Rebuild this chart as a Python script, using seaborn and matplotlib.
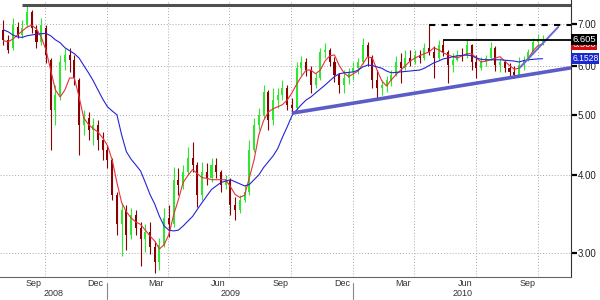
import matplotlib

matplotlib.use("Agg")
import matplotlib.dates as mdates
import matplotlib.pyplot as plt
import matplotlib.transforms as mtransforms
import pandas as pd
import seaborn as sns
from matplotlib.ticker import FixedLocator, FuncFormatter, NullFormatter, NullLocator

# weekly bars, week ending Friday
week_end = pd.date_range("2008-08-01", periods=115, freq="W-FRI")

opens = [
    6.85, 6.60, 6.41, 6.92, 6.72, 6.97, 7.31, 6.85, 6.55, 6.90,
    6.13, 5.09, 5.38, 6.08, 6.24, 6.13, 5.69, 4.82, 4.94, 4.73,
    4.82, 4.56, 4.39, 4.23, 3.72, 3.33, 3.51, 3.20, 3.45, 3.29,
    3.15, 3.24, 3.06, 2.90, 3.09, 3.41, 3.33, 3.93, 3.86, 4.05,
    4.26, 4.15, 3.72, 4.05, 3.96, 4.15, 4.05, 3.86, 3.93, 3.58,
    3.51, 3.65, 3.76, 4.39, 4.82, 5.00, 5.44, 4.91, 5.28, 5.38,
    5.52, 5.19, 5.13, 5.94, 6.08, 5.90, 5.58, 5.73, 6.31, 6.36,
    6.08, 5.80, 5.58, 5.73, 5.86, 5.94, 6.08, 6.48, 6.20, 5.69,
    5.52, 5.58, 5.69, 5.80, 6.08, 5.94, 6.17, 6.08, 6.24, 6.17,
    6.41, 6.31, 6.17, 6.48, 6.31, 6.01, 6.13, 6.24, 6.22, 6.48,
    6.08, 5.94, 6.08, 6.17, 6.41, 6.01, 6.08, 5.94, 5.86, 5.80,
    6.01, 6.13, 6.31, 6.55, 6.55,
]
highs = [
    7.10, 6.72, 7.15, 7.05, 7.10, 7.51, 7.37, 6.97, 7.15, 6.97,
    6.17, 5.58, 6.24, 6.41, 6.41, 6.24, 5.73, 5.09, 5.05, 4.94,
    4.91, 4.69, 4.47, 4.26, 3.76, 3.61, 3.58, 3.54, 3.51, 3.36,
    3.33, 3.36, 3.13, 3.17, 3.54, 3.58, 4.12, 4.11, 4.15, 4.43,
    4.52, 4.20, 4.20, 4.18, 4.26, 4.26, 4.08, 4.00, 3.96, 3.68,
    3.72, 3.86, 4.56, 4.94, 5.13, 5.58, 5.48, 5.52, 5.52, 5.69,
    5.58, 5.32, 6.08, 6.22, 6.17, 5.99, 5.84, 6.41, 6.53, 6.41,
    6.20, 5.84, 5.90, 5.94, 6.08, 6.17, 6.65, 6.55, 6.24, 5.90,
    5.69, 5.78, 5.90, 6.22, 6.29, 6.36, 6.36, 6.36, 6.36, 6.53,
    6.98, 6.46, 6.60, 6.60, 6.36, 6.29, 6.36, 6.41, 6.60, 6.50,
    6.24, 6.20, 6.24, 6.55, 6.46, 6.17, 6.13, 6.06, 5.99, 6.20,
    6.22, 6.38, 6.65, 6.75, 6.72,
]
lows = [
    6.48, 6.29, 6.36, 6.65, 6.65, 6.92, 6.77, 6.41, 6.48, 6.06,
    4.39, 4.82, 5.28, 5.90, 5.86, 5.58, 4.31, 4.64, 4.56, 4.47,
    4.39, 4.23, 4.11, 3.65, 3.20, 2.96, 3.03, 3.15, 3.20, 2.85,
    3.01, 2.98, 2.78, 2.81, 3.06, 3.18, 3.30, 3.72, 3.79, 4.00,
    4.05, 3.55, 3.65, 3.86, 3.90, 3.96, 3.75, 3.79, 3.45, 3.39,
    3.47, 3.62, 3.72, 4.36, 4.73, 4.94, 4.73, 4.82, 5.13, 5.28,
    5.09, 5.02, 5.05, 5.80, 5.78, 5.42, 5.52, 5.69, 6.17, 6.00,
    5.65, 5.42, 5.42, 5.60, 5.69, 5.82, 6.04, 6.00, 5.52, 5.30,
    5.38, 5.44, 5.56, 5.78, 5.63, 5.90, 6.00, 6.04, 6.06, 6.13,
    6.24, 5.73, 6.13, 6.22, 5.63, 5.86, 6.10, 6.10, 6.17, 5.90,
    5.73, 5.90, 6.00, 6.13, 5.88, 5.86, 5.86, 5.75, 5.72, 5.78,
    5.90, 6.10, 6.26, 6.46, 6.48,
]
closes = [
    6.60, 6.36, 6.97, 6.72, 6.90, 7.31, 6.90, 6.55, 6.97, 6.24,
    5.09, 5.38, 6.08, 6.24, 6.13, 5.73, 4.82, 4.94, 4.73, 4.82,
    4.56, 4.39, 4.23, 3.72, 3.33, 3.51, 3.20, 3.45, 3.29, 3.15,
    3.24, 3.06, 2.90, 3.09, 3.41, 3.33, 3.93, 3.86, 4.05, 4.26,
    4.15, 3.72, 4.05, 3.96, 4.15, 4.05, 3.86, 3.93, 3.58, 3.51,
    3.65, 3.76, 4.39, 4.82, 5.00, 5.44, 4.91, 5.28, 5.38, 5.52,
    5.19, 5.13, 5.94, 6.08, 5.90, 5.58, 5.73, 6.31, 6.36, 6.08,
    5.80, 5.58, 5.73, 5.86, 5.94, 6.08, 6.48, 6.20, 5.69, 5.52,
    5.58, 5.69, 5.80, 6.08, 5.94, 6.17, 6.08, 6.24, 6.17, 6.41,
    6.31, 6.17, 6.48, 6.31, 6.01, 6.13, 6.24, 6.22, 6.48, 6.08,
    5.94, 6.08, 6.17, 6.41, 6.01, 6.08, 5.94, 5.86, 5.80, 6.01,
    6.13, 6.31, 6.55, 6.60, 6.605,
]
ma_fast = [
    6.58, 6.55, 6.62, 6.72, 6.82, 6.92, 6.97, 6.87, 6.67, 6.36,
    5.90, 5.48, 5.34, 5.48, 5.73, 5.73, 5.34, 4.94, 4.82, 4.75,
    4.69, 4.59, 4.46, 4.23, 3.89, 3.61, 3.49, 3.41, 3.36, 3.33,
    3.26, 3.19, 3.13, 3.04, 3.09, 3.21, 3.45, 3.65, 3.89, 3.99,
    4.08, 4.02, 3.96, 3.95, 3.93, 3.93, 3.93, 3.93, 3.83, 3.72,
    3.68, 3.71, 3.96, 4.23, 4.64, 4.89, 5.05, 5.11, 5.15, 5.19,
    5.28, 5.42, 5.60, 5.76, 5.90, 5.90, 5.82, 5.90, 6.10, 6.22,
    6.24, 6.00, 5.84, 5.76, 5.82, 5.88, 6.04, 6.20, 6.17, 5.90,
    5.67, 5.56, 5.69, 5.80, 5.90, 6.00, 6.10, 6.17, 6.22, 6.27,
    6.31, 6.41, 6.36, 6.29, 6.24, 6.20, 6.17, 6.22, 6.27, 6.27,
    6.17, 6.08, 6.10, 6.13, 6.17, 6.20, 6.10, 6.00, 5.92, 5.94,
    6.04, 6.17, 6.34, 6.46, 6.50,
]
ma_slow = [
    6.85, 6.80, 6.72, 6.67, 6.66, 6.70, 6.72, 6.74, 6.75, 6.76,
    6.70, 6.60, 6.53, 6.41, 6.34, 6.27, 6.17, 6.00, 5.84, 5.67,
    5.48, 5.30, 5.15, 5.07, 5.00, 4.64, 4.36, 4.24, 4.15, 4.06,
    3.89, 3.72, 3.59, 3.43, 3.31, 3.26, 3.25, 3.26, 3.31, 3.37,
    3.43, 3.52, 3.61, 3.70, 3.79, 3.84, 3.89, 3.91, 3.93, 3.90,
    3.87, 3.84, 3.86, 3.93, 4.00, 4.11, 4.20, 4.29, 4.41, 4.60,
    4.78, 4.98, 5.09, 5.19, 5.28, 5.34, 5.42, 5.50, 5.58, 5.67,
    5.76, 5.82, 5.84, 5.85, 5.86, 5.90, 5.97, 6.01, 6.00, 5.97,
    5.94, 5.88, 5.84, 5.85, 5.86, 5.87, 5.88, 5.89, 5.90, 5.94,
    6.00, 6.06, 6.10, 6.15, 6.17, 6.20, 6.22, 6.23, 6.24, 6.22,
    6.17, 6.14, 6.13, 6.13, 6.13, 6.13, 6.12, 6.11, 6.10, 6.08,
    6.11, 6.13, 6.14, 6.15, 6.1528,
]

# drawn lines: (start date, end date, start value, end value)
support_dates = ["2009-10-02", "2010-11-19"]
support_values = [5.03, 5.95]
steep_dates = ["2010-09-04", "2010-10-31"]
steep_values = [5.95, 6.92]
top_level, top_from = 7.51, "2008-08-29"
dash_level, dash_from = 6.98, "2010-04-23"
last_level, last_from = 6.605, "2010-05-14"

month_labels = ["Sep", "Dec", "Mar", "Jun", "Sep", "Dec", "Mar", "Jun", "Sep"]
month_label_dates = ["2008-09-15", "2008-12-15", "2009-03-15", "2009-06-15", "2009-09-15",
                     "2009-12-15", "2010-03-15", "2010-06-15", "2010-09-15"]
year_labels = ["2008", "2009", "2010"]
year_starts = ["2009-01-01", "2010-01-01"]

x_start, x_end = "2008-07-27", "2010-11-19"


def num(d):
    return mdates.date2num(pd.Timestamp(d))


df = pd.DataFrame({
    "x": mdates.date2num(week_end),
    "open": opens, "high": highs, "low": lows, "close": closes,
    "fast": ma_fast, "slow": ma_slow,
})
df["up"] = df["close"] >= df["open"]

sns.set_style("white")
plt.rcParams["font.family"] = ["Liberation Sans", "DejaVu Sans"]
fig = plt.figure(figsize=(6, 3), dpi=100)
ax = fig.add_axes([0, 23 / 300, 571 / 600, 277 / 300])

up_c, dn_c = "#2ee82e", "#8b0000"
cols = [up_c if u else dn_c for u in df["up"]]
ax.vlines(df["x"], df["low"], df["high"], colors=cols, lw=0.8, zorder=3)
body_lo = df[["open", "close"]].min(axis=1)
body_h = (df["close"] - df["open"]).abs().clip(lower=0.02)
ax.bar(df["x"], body_h, bottom=body_lo, width=3.0, color=cols, linewidth=0, zorder=3)

sns.lineplot(data=df, x="x", y="fast", ax=ax, color="#e8303a", lw=0.8, zorder=4)
sns.lineplot(data=df, x="x", y="slow", ax=ax, color="#2424d8", lw=0.8, zorder=4)

ax.plot([num(d) for d in support_dates], support_values, color="#5c5cc8", lw=2.6,
        solid_capstyle="butt", zorder=5)
ax.plot([num(d) for d in steep_dates], steep_values, color="#6a6ad6", lw=1.4, zorder=5)

xe = num(x_end)
ax.hlines(top_level, num(top_from), xe, color="#505050", lw=2.2, zorder=5)
ax.hlines(dash_level, num(dash_from), xe, color="black", lw=1.5, linestyles=(0, (3, 3)), zorder=5)
ax.hlines(last_level, num(last_from), xe, color="black", lw=1.3, zorder=5)

ax.set_yscale("log")
ax.set_ylim(2.74, 7.65)
ax.set_xlim(num(x_start), xe)
ax.yaxis.set_major_locator(FixedLocator([3, 4, 5, 6, 7]))
ax.yaxis.set_minor_locator(NullLocator())
ax.yaxis.set_major_formatter(FuncFormatter(lambda v, _: f"{v:.2f}"))
ax.yaxis.tick_right()
ax.tick_params(axis="y", which="major", direction="out", length=4, width=1.6,
               color="black", labelsize=7, pad=1, labelcolor="#222222")

quarters = pd.date_range("2008-10-01", "2010-10-01", freq="QS-OCT")
months = pd.date_range("2008-08-01", "2010-11-01", freq="MS")
ax.xaxis.set_major_locator(FixedLocator(mdates.date2num(quarters)))
ax.xaxis.set_minor_locator(FixedLocator(mdates.date2num(months)))
ax.xaxis.set_major_formatter(NullFormatter())
ax.tick_params(axis="x", which="both", direction="out", length=3, width=0.8, color="#666666")

ax.grid(True, which="major", color="#a8a8a8", lw=0.7, ls=(0, (1, 2)))

for s in ["left", "top"]:
    ax.spines[s].set_visible(False)
ax.spines["bottom"].set_color("#666666")
ax.spines["right"].set_color("#333333")
ax.set_xlabel("")
ax.set_ylabel("")

trans = mtransforms.blended_transform_factory(ax.transData, ax.transAxes)
for lab, d in zip(month_labels, month_label_dates):
    ax.text(num(d), -0.024, lab, transform=trans, ha="center", va="center",
            fontsize=6.5, color="#333333")
bounds = [num(x_start)] + [num(d) for d in year_starts] + [xe]
for i, lab in enumerate(year_labels):
    ax.text((bounds[i] + bounds[i + 1]) / 2, -0.06, lab, transform=trans, ha="center",
            va="center", fontsize=6.5, color="#333333")
for d in year_starts:
    ax.plot([num(d), num(d)], [-0.022, -0.078], transform=trans, color="#888888",
            lw=0.8, clip_on=False)

tag = mtransforms.blended_transform_factory(ax.transAxes, ax.transData)
for val, txt, fc, fs in [(ma_fast[-1] - 0.01, f"{ma_fast[-1]:.3f}", "#d01010", 6.8),
                         (closes[-1], f"{closes[-1]:.3f}", "black", 6.8),
                         (ma_slow[-1], f"{ma_slow[-1]:.4f}", "#1a2ad0", 6.2)]:
    ax.text(1.002, val, txt, transform=tag, ha="left", va="center", fontsize=fs,
            color="white", bbox=dict(boxstyle="square,pad=0.12", fc=fc, ec="none"))

fig.savefig("out.png", dpi=100)
plt.close(fig)
